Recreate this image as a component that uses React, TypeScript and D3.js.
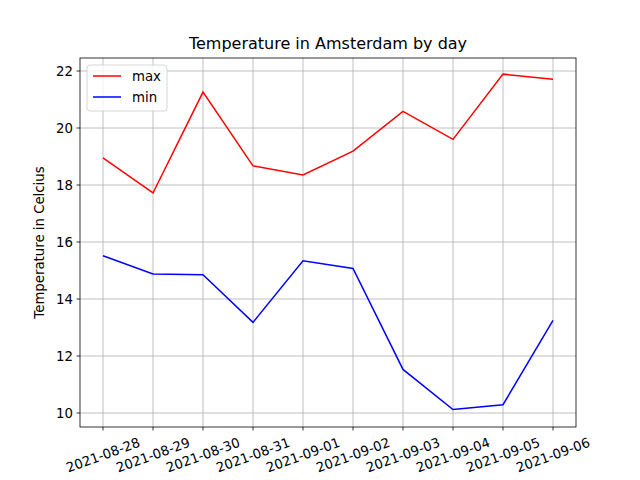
import React from "react";
import * as d3 from "d3";

const dates = ["2021-08-28","2021-08-29","2021-08-30","2021-08-31","2021-09-01","2021-09-02","2021-09-03","2021-09-04","2021-09-05","2021-09-06"];
const maxT = [18.95,17.72,21.26,18.67,18.35,19.19,20.58,19.6,21.89,21.71];
const minT = [15.52,14.88,14.85,13.18,15.34,15.07,11.53,10.12,10.29,13.25];
const yTicks = [10,12,14,16,18,20,22];

export default function App() {
  const L = 80, R = 576, T = 58, B = 427;
  const x = d3.scalePoint<string>().domain(dates).range([103, 553]);
  const y = d3.scaleLinear().domain([10, 22]).range([413, 71]);
  const line = (vals: number[]) => d3.line<number>().x((_, i) => x(dates[i])!).y(v => y(v))(vals)!;
  const font = "DejaVu Sans";
  return (
    <div style={{ position: "fixed", left: 0, top: 0 }}>
      <svg width={640} height={480} style={{ display: "block", background: "#fff" }} fontFamily={font}>
        {dates.map(d => <line key={d} x1={x(d)} x2={x(d)} y1={T} y2={B} stroke="#b0b0b0" strokeWidth={0.8} />)}
        {yTicks.map(t => <line key={t} x1={L} x2={R} y1={y(t)} y2={y(t)} stroke="#b0b0b0" strokeWidth={0.8} />)}
        <path d={line(maxT)} fill="none" stroke="red" strokeWidth={1.5} />
        <path d={line(minT)} fill="none" stroke="blue" strokeWidth={1.5} />
        <rect x={L} y={T} width={R - L} height={B - T} fill="none" stroke="#000" strokeWidth={0.8} />
        {yTicks.map(t => (
          <g key={t}>
            <line x1={L - 3.5} x2={L} y1={y(t)} y2={y(t)} stroke="#000" strokeWidth={0.8} />
            <text x={L - 7} y={y(t)} dy="0.35em" textAnchor="end" fontSize={13.3}>{t}</text>
          </g>
        ))}
        {dates.map(d => (
          <g key={d}>
            <line x1={x(d)} x2={x(d)} y1={B} y2={B + 3.5} stroke="#000" strokeWidth={0.8} />
            <text transform={`translate(${x(d)!},${455}) rotate(-20)`} textAnchor="middle" dy="0.35em" fontSize={13.3}>{d}</text>
          </g>
        ))}
        <text x={(L + R) / 2} y={49} textAnchor="middle" fontSize={16}>Temperature in Amsterdam by day</text>
        <text transform={`translate(44,${(T + B) / 2}) rotate(-90)`} textAnchor="middle" fontSize={13.3}>Temperature in Celcius</text>
        <rect x={87} y={65} width={80} height={46} rx={3} fill="#fff" fillOpacity={0.8} stroke="#ccc" strokeWidth={0.8} />
        <line x1={93} x2={121} y1={76} y2={76} stroke="red" strokeWidth={1.5} />
        <text x={132} y={76} dy="0.35em" fontSize={13.3}>max</text>
        <line x1={93} x2={121} y1={97} y2={97} stroke="blue" strokeWidth={1.5} />
        <text x={132} y={97} dy="0.35em" fontSize={13.3}>min</text>
      </svg>
    </div>
  );
}
